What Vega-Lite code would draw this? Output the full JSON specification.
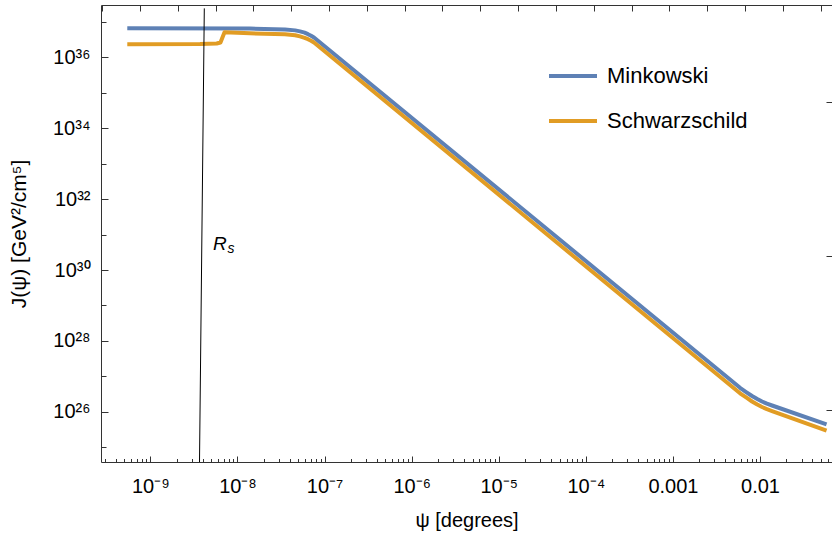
{
  "$schema": "https://vega.github.io/schema/vega-lite/v6.json",
  "width": 731,
  "height": 457,
  "autosize": {"type": "none"},
  "padding": {"left": 101, "top": 5, "right": 0, "bottom": 80},
  "background": "white",
  "config": {
    "view": {"stroke": "#333", "strokeWidth": 1},
    "axis": {
      "labelFont": "Liberation Sans", "titleFont": "Liberation Sans",
      "labelFontSize": 20, "titleFontSize": 20, "titleFontWeight": "normal",
      "grid": false, "domain": false, "tickColor": "#333", "tickWidth": 1,
      "labelColor": "#000", "titleColor": "#000", "labelOverlap": false, "labelFlush": false
    }
  },
  "datasets": {
    "curves": [
      {"psi": 5.43e-10, "J": 6.58e36, "series": "Minkowski"},
      {"psi": 1.392e-8, "J": 6.49e36, "series": "Minkowski"},
      {"psi": 3.513e-8, "J": 6.08e36, "series": "Minkowski"},
      {"psi": 4.6e-8, "J": 5.75e36, "series": "Minkowski"},
      {"psi": 5.22e-8, "J": 5.4e36, "series": "Minkowski"},
      {"psi": 5.9e-8, "J": 4.95e36, "series": "Minkowski"},
      {"psi": 6.45e-8, "J": 4.5e36, "series": "Minkowski"},
      {"psi": 7.0e-8, "J": 4.05e36, "series": "Minkowski"},
      {"psi": 7.56e-8, "J": 3.62e36, "series": "Minkowski"},
      {"psi": 5.9e-3, "J": 4.75e26, "series": "Minkowski"},
      {"psi": 7.0e-3, "J": 3.55e26, "series": "Minkowski"},
      {"psi": 8.1e-3, "J": 2.79e26, "series": "Minkowski"},
      {"psi": 9.3e-3, "J": 2.3e26, "series": "Minkowski"},
      {"psi": 1.055e-2, "J": 1.954e26, "series": "Minkowski"},
      {"psi": 1.2e-2, "J": 1.7e26, "series": "Minkowski"},
      {"psi": 1.375e-2, "J": 1.507e26, "series": "Minkowski"},
      {"psi": 5.81e-2, "J": 4.44e25, "series": "Minkowski"},
      {"psi": 5.43e-10, "J": 2.327e36, "series": "Schwarzschild"},
      {"psi": 3.713e-9, "J": 2.372e36, "series": "Schwarzschild"},
      {"psi": 5.77e-9, "J": 2.451e36, "series": "Schwarzschild"},
      {"psi": 6.38e-9, "J": 2.615e36, "series": "Schwarzschild"},
      {"psi": 7.1e-9, "J": 5.07e36, "series": "Schwarzschild"},
      {"psi": 1.392e-8, "J": 4.75e36, "series": "Schwarzschild"},
      {"psi": 3.513e-8, "J": 4.456e36, "series": "Schwarzschild"},
      {"psi": 4.6e-8, "J": 4.2e36, "series": "Schwarzschild"},
      {"psi": 5.22e-8, "J": 3.9e36, "series": "Schwarzschild"},
      {"psi": 5.9e-8, "J": 3.55e36, "series": "Schwarzschild"},
      {"psi": 6.45e-8, "J": 3.25e36, "series": "Schwarzschild"},
      {"psi": 7.0e-8, "J": 2.93e36, "series": "Schwarzschild"},
      {"psi": 7.56e-8, "J": 2.615e36, "series": "Schwarzschild"},
      {"psi": 5.9e-3, "J": 3.33e26, "series": "Schwarzschild"},
      {"psi": 7.0e-3, "J": 2.5e26, "series": "Schwarzschild"},
      {"psi": 8.1e-3, "J": 1.954e26, "series": "Schwarzschild"},
      {"psi": 9.3e-3, "J": 1.6e26, "series": "Schwarzschild"},
      {"psi": 1.055e-2, "J": 1.365e26, "series": "Schwarzschild"},
      {"psi": 1.2e-2, "J": 1.19e26, "series": "Schwarzschild"},
      {"psi": 1.375e-2, "J": 1.054e26, "series": "Schwarzschild"},
      {"psi": 5.81e-2, "J": 2.93e25, "series": "Schwarzschild"}
    ],
    "rs": [
      {"psi": 4.16e-9, "J": 2.4e37},
      {"psi": 3.663e-9, "J": 3.5e24}
    ],
    "lbl": [
      {"psi": 5.24e-9, "J": 3.66e30, "t": "R", "part": "main"},
      {"psi": 7.7e-9, "J": 2.95e30, "t": "s", "part": "sub"}
    ]
  },
  "layer": [
    {
      "data": {"name": "curves"},
      "mark": {"type": "line", "strokeWidth": 4, "interpolate": "linear", "strokeJoin": "round", "clip": true},
      "encoding": {
        "x": {"field": "psi", "type": "quantitative",
          "scale": {"type": "log", "domain": [2.71e-10, 0.0671], "nice": false},
          "axis": {"orient": "bottom", "values": [1e-9, 1e-8, 1e-7, 1e-6, 1e-5, 1e-4, 0.001, 0.01],
            "labelExpr": "['10⁻⁹','10⁻⁸','10⁻⁷','10⁻⁶','10⁻⁵','10⁻⁴','0.001','0.01'][round(log(datum.value)/LN10)+9]",
            "ticks": false, "labelPadding": 14, "title": "ψ [degrees]", "titlePadding": 14}},
        "y": {"field": "J", "type": "quantitative",
          "scale": {"type": "log", "domain": [3.84e24, 2.99e37], "nice": false},
          "axis": {"orient": "left", "values": [1e26, 1e28, 1e30, 1e32, 1e34, 1e36],
            "labelExpr": "['10²⁶','10²⁸','10³⁰','10³²','10³⁴','10³⁶'][(round(log(datum.value)/LN10)-26)/2]",
            "ticks": false, "labelPadding": 11, "title": "J(ψ) [GeV²/cm⁵]", "titleFontSize": 21, "titlePadding": 23}},
        "color": {"field": "series", "type": "nominal",
          "scale": {"domain": ["Minkowski", "Schwarzschild"], "range": ["#5E81B5", "#E19C24"]},
          "legend": {"orient": "none", "legendX": 446, "legendY": 45, "direction": "vertical", "title": null,
            "symbolType": "stroke", "symbolStrokeWidth": 4, "symbolSize": 2304,
            "labelFont": "Liberation Sans", "labelFontSize": 22, "labelColor": "#000",
            "labelOffset": 8, "rowPadding": 8, "padding": 0}}
      }
    },
    {
      "data": {"name": "rs"},
      "mark": {"type": "line", "strokeWidth": 1, "color": "#000", "clip": true},
      "encoding": {
        "x": {"field": "psi", "type": "quantitative", "scale": {"type": "log", "domain": [2.71e-10, 0.0671], "nice": false}, "axis": null},
        "y": {"field": "J", "type": "quantitative", "scale": {"type": "log", "domain": [3.84e24, 2.99e37], "nice": false}, "axis": null}
      }
    },
    {
      "data": {"name": "lbl"},
      "transform": [{"filter": "datum.part == 'main'"}],
      "mark": {"type": "text", "align": "left", "baseline": "alphabetic", "font": "Liberation Sans", "fontStyle": "italic", "fontSize": 19, "color": "#000"},
      "encoding": {
        "x": {"field": "psi", "type": "quantitative", "scale": {"type": "log", "domain": [2.71e-10, 0.0671], "nice": false}, "axis": null},
        "y": {"field": "J", "type": "quantitative", "scale": {"type": "log", "domain": [3.84e24, 2.99e37], "nice": false}, "axis": null},
        "text": {"field": "t"}
      }
    },
    {
      "data": {"name": "lbl"},
      "transform": [{"filter": "datum.part == 'sub'"}],
      "mark": {"type": "text", "align": "left", "baseline": "alphabetic", "font": "Liberation Sans", "fontStyle": "italic", "fontSize": 14, "color": "#000"},
      "encoding": {
        "x": {"field": "psi", "type": "quantitative", "scale": {"type": "log", "domain": [2.71e-10, 0.0671], "nice": false}, "axis": null},
        "y": {"field": "J", "type": "quantitative", "scale": {"type": "log", "domain": [3.84e24, 2.99e37], "nice": false}, "axis": null},
        "text": {"field": "t"}
      }
    },
    {
      "data": {"name": "rs"},
      "mark": {"type": "point", "opacity": 0},
      "encoding": {
        "x": {"field": "psi", "type": "quantitative", "scale": {"type": "log", "domain": [2.71e-10, 0.0671], "nice": false},
          "axis": {"orient": "bottom", "values": [1e-9, 1e-8, 1e-7, 1e-6, 1e-5, 1e-4, 0.001, 0.01], "labels": false, "tickSize": -6, "title": null}},
        "y": {"field": "J", "type": "quantitative", "scale": {"type": "log", "domain": [3.84e24, 2.99e37], "nice": false},
          "axis": {"orient": "left", "values": [1e26, 1e28, 1e30, 1e32, 1e34, 1e36], "labels": false, "tickSize": -7, "title": null}}
      }
    },
    {
      "data": {"name": "rs"},
      "mark": {"type": "point", "opacity": 0},
      "encoding": {
        "x": {"field": "psi", "type": "quantitative", "scale": {"type": "log", "domain": [2.71e-10, 0.0671], "nice": false},
          "axis": {"orient": "bottom", "labels": false, "tickSize": -3.5, "title": null,
            "values": [3e-10, 4e-10, 5e-10, 6e-10, 7e-10, 8e-10, 9e-10,
              2e-9, 3e-9, 4e-9, 5e-9, 6e-9, 7e-9, 8e-9, 9e-9,
              2e-8, 3e-8, 4e-8, 5e-8, 6e-8, 7e-8, 8e-8, 9e-8,
              2e-7, 3e-7, 4e-7, 5e-7, 6e-7, 7e-7, 8e-7, 9e-7,
              2e-6, 3e-6, 4e-6, 5e-6, 6e-6, 7e-6, 8e-6, 9e-6,
              2e-5, 3e-5, 4e-5, 5e-5, 6e-5, 7e-5, 8e-5, 9e-5,
              2e-4, 3e-4, 4e-4, 5e-4, 6e-4, 7e-4, 8e-4, 9e-4,
              0.002, 0.003, 0.004, 0.005, 0.006, 0.007, 0.008, 0.009,
              0.02, 0.03, 0.04, 0.05, 0.06]}},
        "y": {"field": "J", "type": "quantitative", "scale": {"type": "log", "domain": [3.84e24, 2.99e37], "nice": false},
          "axis": {"orient": "left", "values": [1e25, 1e27, 1e29, 1e31, 1e33, 1e35, 1e37], "labels": false, "tickSize": -5, "title": null}}
      }
    },
    {
      "data": {"name": "rs"},
      "mark": {"type": "point", "opacity": 0},
      "encoding": {
        "x": {"field": "psi", "type": "quantitative", "scale": {"type": "log", "domain": [2.71e-10, 0.0671], "nice": false},
          "axis": {"orient": "top", "labels": false, "tickSize": -6, "title": null,
            "values": [2.789e-10, 7.583e-10, 2.061e-9, 5.603e-9, 1.523e-8, 4.14e-8, 1.125e-7, 3.059e-7, 8.315e-7, 2.26e-6, 6.144e-6, 1.67e-5, 4.54e-5, 1.234e-4, 3.355e-4, 9.119e-4, 2.479e-3, 6.738e-3, 1.832e-2, 4.979e-2]}},
        "y": {"field": "J", "type": "quantitative", "scale": {"type": "log", "domain": [3.84e24, 2.99e37], "nice": false},
          "axis": {"orient": "right", "labels": false, "tickSize": -6, "title": null,
            "values": [1.142e26, 2.515e30, 5.541e34]}}
      }
    }
  ],
  "resolve": {"axis": {"x": "independent", "y": "independent"}}
}
